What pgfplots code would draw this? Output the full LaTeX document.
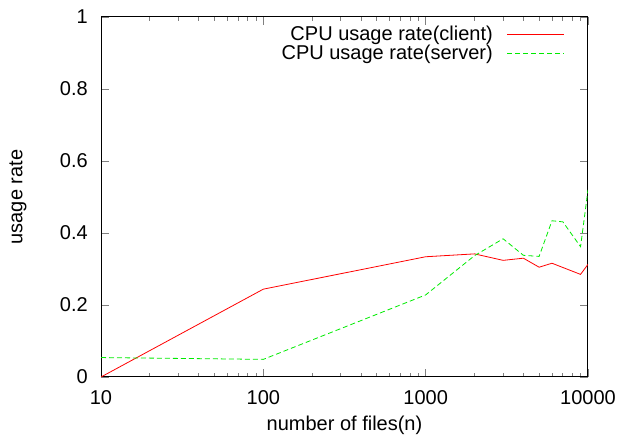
\documentclass[border=0pt]{standalone}
\usepackage{fontspec}
\setmainfont{Liberation Sans}
\usepackage{pgfplots}
\pgfplotsset{compat=1.18}
\definecolor{gpred}{RGB}{255,0,0}
\definecolor{gpgreen}{RGB}{0,235,0}

\begin{document}
\fontsize{20}{24}\selectfont
\begin{tikzpicture}
\path[use as bounding box] (-101pt,-59pt) rectangle (521pt,377pt);
\begin{axis}[
    at={(0pt,0pt)}, anchor=south west,
    scale only axis, width=487pt, height=360pt,
    xmode=log, xmin=10, xmax=10000,
    ymin=0, ymax=1,
    xtick={10,100,1000,10000},
    xticklabels={10,100,1000,10000},
    ytick={0,0.2,0.4,0.6,0.8,1},
    yticklabels={0,0.2,0.4,0.6,0.8,1},
    ticklabel style={font=\fontsize{20}{24}\selectfont},
    tick align=inside,
    major tick length=8pt, minor tick length=4pt,
    tick style={line width=0.8pt},
    axis line style={line width=1pt},
    xticklabel style={anchor=center, inner sep=0pt, yshift=-21pt},
    yticklabel style={anchor=east, inner sep=0pt, xshift=-13pt},
    xlabel={number of files(n)},
    ylabel={usage rate},
    xlabel style={at={(axis description cs:0.5,0)}, anchor=center, yshift=-48pt},
    ylabel style={at={(axis description cs:0,0.5)}, anchor=center, yshift=83pt},
]
\addplot[color=gpred, line width=0.8pt] coordinates {
    (10,0.0) (100,0.244) (1000,0.334) (2000,0.342) (3000,0.324)
    (4000,0.330) (5000,0.305) (6000,0.316) (9000,0.285) (10000,0.313)
};
\addplot[color=gpgreen, line width=0.8pt, dash pattern=on 5pt off 3pt] coordinates {
    (10,0.054) (100,0.049) (1000,0.228) (2000,0.337) (3000,0.384)
    (4000,0.338) (5000,0.335) (6000,0.434) (7000,0.431) (9000,0.362)
    (10000,0.52)
};
\end{axis}
% legend, gnuplot style: text first, line sample after it
\node[anchor=east, inner sep=0pt] at (392pt,342pt) {CPU usage rate(client)};
\draw[gpred, line width=1pt] (406pt,342.5pt) -- (463pt,342.5pt);
\node[anchor=east, inner sep=0pt] at (392pt,323pt) {CPU usage rate(server)};
\draw[gpgreen, line width=1pt, dash pattern=on 5pt off 3pt] (406pt,323.5pt) -- (463pt,323.5pt);
\end{tikzpicture}
\end{document}
